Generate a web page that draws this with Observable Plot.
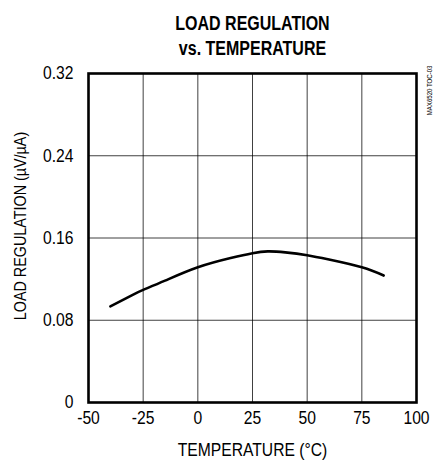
<!DOCTYPE html>
<html>
<head>
<meta charset="utf-8">
<script src="https://cdn.jsdelivr.net/npm/d3@7"></script>
<script src="https://cdn.jsdelivr.net/npm/@observablehq/plot@0.6"></script>
<style>
  html, body { margin: 0; padding: 0; background: #fff; }
  svg { display: block; }
</style>
</head>
<body>
<div id="chart"></div>
<script>
const temperature = [-40, -30, -25, -15, 0, 15, 25, 32, 40, 50, 60, 75, 85];
const loadRegulation = [0.0935, 0.1045, 0.1095, 0.1185, 0.1315, 0.1405, 0.1452, 0.147, 0.146, 0.1432, 0.139, 0.1315, 0.1235];
const xTicks = [-50, -25, 0, 25, 50, 75, 100];
const yTicks = [0, 0.08, 0.16, 0.24, 0.32];
const titleLines = ["LOAD REGULATION", "vs. TEMPERATURE"];
const xLabel = "TEMPERATURE (°C)";
const yLabel = "LOAD REGULATION (µV/µA)";
const sideNote = "MAX6520 TOC-03";

const data = temperature.map((t, i) => ({t, v: loadRegulation[i]}));

const sans = "'Liberation Sans', Arial, Helvetica, sans-serif";

const chart = Plot.plot({
  width: 433,
  height: 460,
  marginTop: 73,
  marginBottom: 58,
  marginLeft: 88,
  marginRight: 17,
  style: {fontFamily: sans, background: "#fff", color: "#000"},
  x: {domain: [-50, 100], ticks: xTicks, label: null},
  y: {domain: [0, 0.32], ticks: yTicks, label: null},
  marks: [
    Plot.gridX(xTicks, {stroke: "#000", strokeOpacity: 0.75, strokeWidth: 1}),
    Plot.gridY(yTicks, {stroke: "#000", strokeOpacity: 0.75, strokeWidth: 1}),
    Plot.axisX(xTicks, {tickSize: 0, tickPadding: 9, fontSize: 18, tickFormat: d => String(d), label: null, className: "narrow"}),
    Plot.axisY(yTicks, {tickSize: 0, tickPadding: 15, fontSize: 18, tickFormat: d => d === 0 ? "0" : d.toFixed(2), label: null, className: "narrow"}),
    Plot.line(data, {x: "t", y: "v", curve: "natural", stroke: "#000", strokeWidth: 2.6}),
    Plot.frame({stroke: "#000", strokeWidth: 2.6}),
    Plot.text([titleLines[0]], {frameAnchor: "top", text: d => d, dy: -44, lineAnchor: "bottom", textAnchor: "middle", fontSize: 20, fontWeight: "bold", className: "title"}),
    Plot.text([titleLines[1]], {frameAnchor: "top", text: d => d, dy: -19, lineAnchor: "bottom", textAnchor: "middle", fontSize: 20, fontWeight: "bold", className: "title"}),
    Plot.text([xLabel], {frameAnchor: "bottom", text: d => d, dy: 53, lineAnchor: "bottom", textAnchor: "middle", fontSize: 18, className: "narrow"}),
    Plot.text([yLabel], {frameAnchor: "left", text: d => d, dx: -68, dy: -12, rotate: -90, textAnchor: "middle", fontSize: 16.5, className: "narrow"}),
    Plot.text([sideNote], {frameAnchor: "top-right", text: d => d, dx: 11, dy: -8, rotate: -90, textAnchor: "end", fontSize: 7, className: "narrow"})
  ]
});

// condensed lettering (reference uses a narrow face)
function squeeze(sel, k) {
  d3.select(chart).selectAll(sel).each(function() {
    const t = this.getAttribute("transform") || "";
    this.setAttribute("transform", (t + ` scale(${k},1)`).trim());
  });
}
squeeze(".narrow text", 0.87);
squeeze(".title text", 0.8);

document.getElementById("chart").appendChild(chart);
</script>
</body>
</html>
